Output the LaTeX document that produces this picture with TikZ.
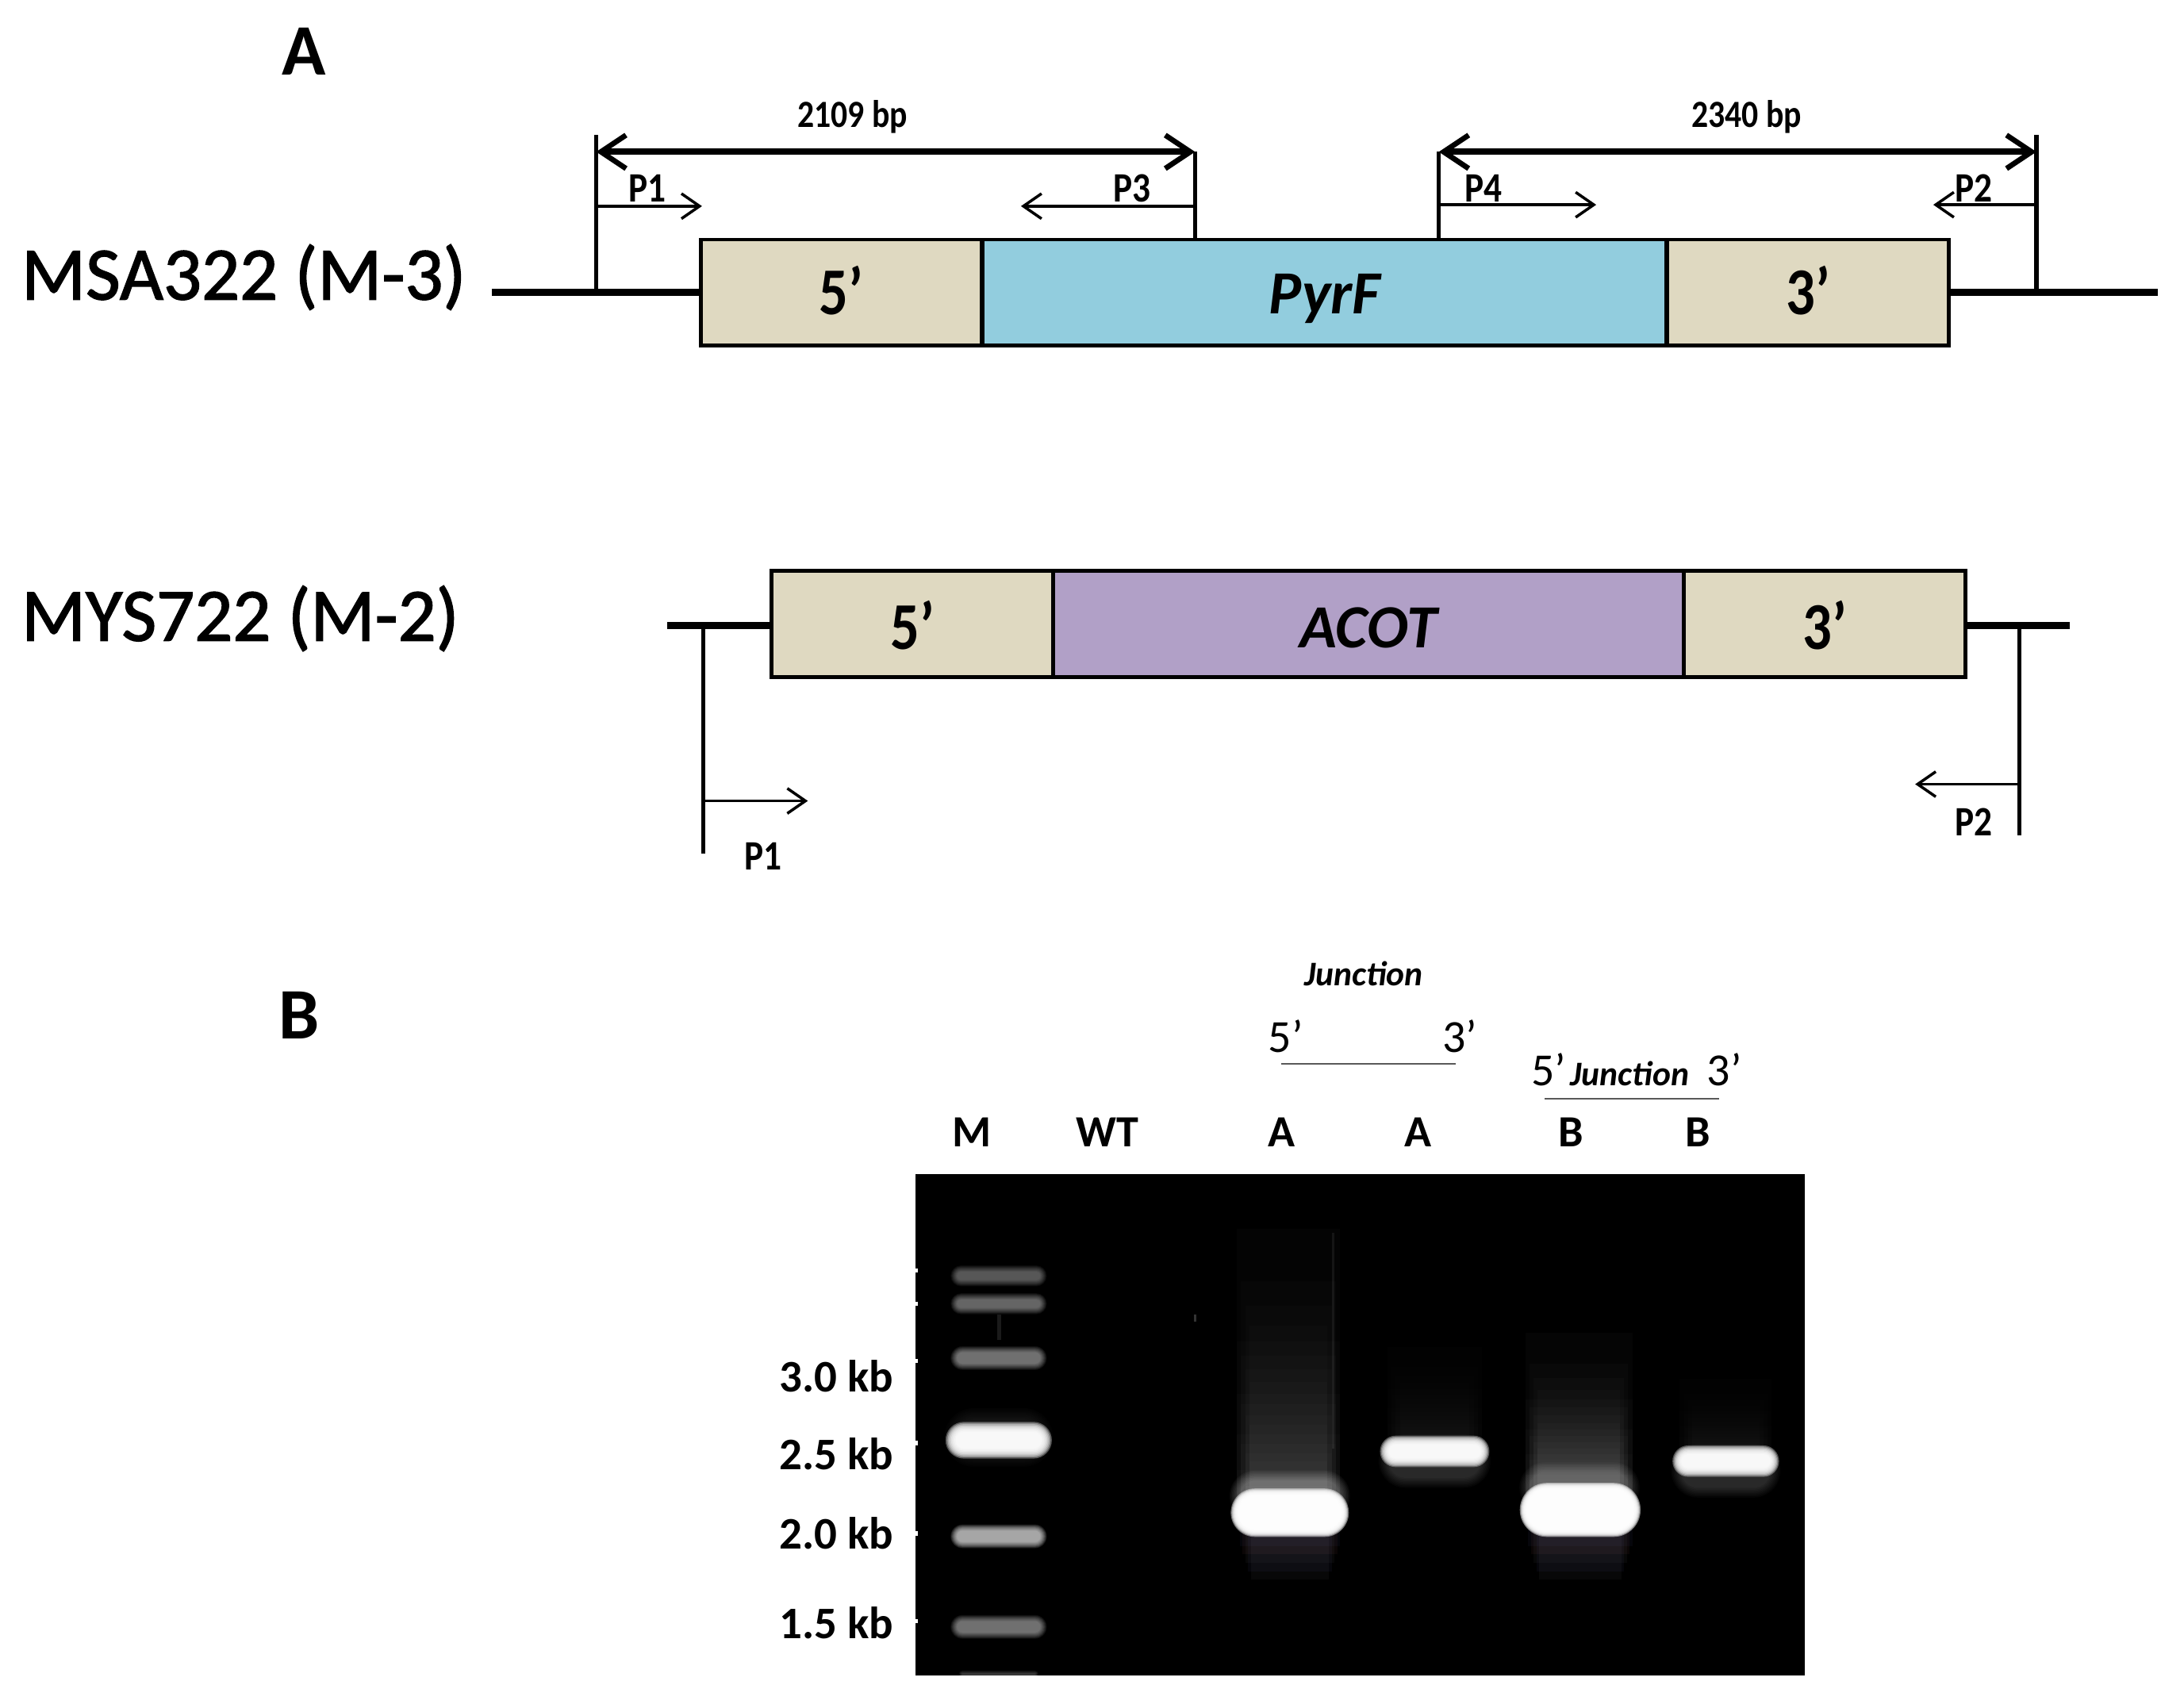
\documentclass[tikz,border=0pt]{standalone}
\usepackage{fontspec}
\setmainfont{Carlito}
\newfontfamily\condfont[FakeStretch=0.86]{Carlito}
\newfontfamily\heavyfont[FakeBold=1.6]{Carlito}
\usetikzlibrary{arrows.meta}
\definecolor{flank}{HTML}{DFD9C1}
\definecolor{pyrcol}{HTML}{92CDDE}
\definecolor{acotcol}{HTML}{B1A0C7}
\newcommand{\fs}[1]{\fontsize{#1}{#1}\selectfont}
\newcommand{\lowered}[2]{\raisebox{-#1}[0pt][0pt]{#2}}
% glow band: centre x,y; half width, half height; opacity per layer; blur step
\newcommand{\gelband}[6]{%
  \foreach \k in {0,1,...,9}{%
    \pgfmathsetmacro{\ex}{(9-\k)*#6}%
    \pgfmathsetmacro{\rr}{min(#3,#4)+\ex}%
    \fill[white,opacity=#5,rounded corners=\rr*0.5pt]
      (#1-#3-\ex,#2-#4-\ex) rectangle (#1+#3+\ex,#2+#4+\ex);
  }%
}
% smear: x1, x2, ytop, ybottom, opacity per layer
\newcommand{\gelsmear}[5]{%
  \foreach \k in {0,1,...,19}{%
    \pgfmathsetmacro{\yy}{#3+(#4-#3)*(\k/20)^0.55}%
    \pgfmathsetmacro{\ins}{mod(\k,4)*3}%
    \fill[white,opacity=#5] (#1+\ins,\yy) rectangle (#2-\ins,#4);
  }%
}
% tinted glow beneath an overloaded band: x1, x2, ytop
\newcommand{\gelunder}[3]{%
  \foreach \k/\tc in {0/blue,1/red,2/gray,3/blue,4/gray}{%
    \pgfmathsetmacro{\hh}{12+\k*6}%
    \fill[white!55!\tc,opacity=0.045] (#1+\k*2,#3) rectangle (#2-\k*2,#3+\hh);
  }%
}
\tikzset{
  x=0.017557cm,y=-0.017557cm,
  seg/.style={draw=black,line width=1.4pt,minimum height=38pt,inner sep=0pt,outer sep=0pt},
  genelabel/.style={font=\bfseries\itshape\fs{22}},
  endlabel/.style={font=\condfont\bfseries\upshape\fs{24}},
  dna/.style={line width=2.6pt},
  tick/.style={line width=1.5pt},
  span/.style={line width=2.3pt,{Straight Barb[length=9pt,width=12pt,line width=1.9pt]}-{Straight Barb[length=9pt,width=12pt,line width=1.9pt]}},
  primer/.style={line width=1pt,-{Straight Barb[length=6.5pt,width=9pt,line width=1pt]}},
  strain/.style={font=\heavyfont\fs{27},anchor=west,inner sep=0pt},
  panel/.style={font=\bfseries\fs{26},inner sep=0pt},
  plabel/.style={font=\condfont\bfseries\fs{15},inner sep=0pt},
  bplabel/.style={font=\condfont\bfseries\fs{13.8},inner sep=0pt},
  lane/.style={font=\bfseries\fs{16},inner sep=0pt},
  kb/.style={font=\bfseries\fs{16.2},inner sep=0pt,anchor=east},
  jun/.style={font=\bfseries\itshape\fs{12.4},inner sep=0pt},
  endp/.style={font=\fs{16.5},inner sep=0pt},
  bar/.style={draw=black!65,line width=0.6pt},
}
\begin{document}
\begin{tikzpicture}
\useasboundingbox (0,0) rectangle (1568,1226);
\fill[white] (0,0) rectangle (1568,1226);

% ---------- Panel labels
\node[panel] (pA) at (218,37) {A};
\node[panel] (pB) at (215,729) {B};
\node[strain] (s1) at (15,199) {MSA322 (M-3)};
\node[strain] (s2) at (15,444) {MYS722 (M-2)};

% ---------- Construct 1
\coordinate (aL) at (353,210);
\coordinate (aR) at (1549,210);
\coordinate (aLt) at (428,210);
\coordinate (aRt) at (1462,210);
\coordinate (t1) at (428,97);
\coordinate (t2) at (1462,97);
\coordinate (t3) at (858,109);
\coordinate (t4) at (1033,109);
\coordinate (b3) at (858,172);
\coordinate (b4) at (1033,172);
\draw[tick] (aLt) -- (t1);
\draw[tick] (aRt) -- (t2);
\draw[tick] (b3) -- (t3);
\draw[tick] (b4) -- (t4);
\node[seg,fill=flank,minimum width=101pt,endlabel] (a5) at (604,210) {\lowered{8pt}{5’}};
\node[seg,fill=pyrcol,minimum width=245.2pt,genelabel] (apyr) at (951,210) {\lowered{7.5pt}{PyrF}};
\node[seg,fill=flank,minimum width=101pt,endlabel] (a3) at (1298,210) {\lowered{8pt}{3’}};
\draw[dna] (aL) -- (a5.west);
\draw[dna] (a3.east) -- (aR);
\coordinate (sp1a) at (428,109);
\coordinate (sp1b) at (858,109);
\coordinate (sp2a) at (1033,109);
\coordinate (sp2b) at (1462,109);
\draw[span] (sp1a) -- (sp1b);
\draw[span] (sp2a) -- (sp2b);
\node[bplabel] (bp1) at (612,84) {2109 bp};
\node[bplabel] (bp2) at (1254,84) {2340 bp};
\coordinate (p1s) at (428,148); \coordinate (p1e) at (504,148);
\coordinate (p3s) at (858,148); \coordinate (p3e) at (733,148);
\coordinate (p4s) at (1033,147); \coordinate (p4e) at (1146,147);
\coordinate (p2s) at (1462,147); \coordinate (p2e) at (1388,147);
\draw[primer] (p1s) -- (p1e);
\draw[primer] (p3s) -- (p3e);
\draw[primer] (p4s) -- (p4e);
\draw[primer] (p2s) -- (p2e);
\node[plabel] (lp1) at (465,135) {P1};
\node[plabel] (lp3) at (813,135) {P3};
\node[plabel] (lp4) at (1065,135) {P4};
\node[plabel] (lp2) at (1417,135) {P2};

% ---------- Construct 2
\node[seg,fill=flank,minimum width=101pt,endlabel] (c5) at (655,448) {\lowered{9pt}{5’}};
\node[seg,fill=acotcol,minimum width=226.3pt,genelabel] (cacot) at (982.5,448) {\lowered{8.5pt}{ACOT}};
\node[seg,fill=flank,minimum width=101pt,endlabel] (c3) at (1310,448) {\lowered{9pt}{3’}};
\coordinate (cL) at (479,449);
\coordinate (cR) at (1486,449);
\coordinate (cLt) at (505,449);
\coordinate (cRt) at (1450,449);
\coordinate (d1) at (505,613);
\coordinate (d2) at (1450,600);
\draw[dna] (cL) -- (c5.west |- cL);
\draw[dna] (c3.east |- cR) -- (cR);
\draw[tick] (cLt) -- (d1);
\draw[tick] (cRt) -- (d2);
\coordinate (q1s) at (505,575); \coordinate (q1e) at (580,575);
\coordinate (q2s) at (1450,563); \coordinate (q2e) at (1375,563);
\draw[primer] (q1s) -- (q1e);
\draw[primer] (q2s) -- (q2e);
\node[plabel] (lq1) at (548,615) {P1};
\node[plabel] (lq2) at (1417,590) {P2};

% ---------- Gel
\fill[black] (657,843) rectangle (1296,1203);
% smears
\gelsmear{888}{962}{882}{1078}{0.015}
\gelsmear{996}{1064}{967}{1040}{0.008}
\gelsmear{1095}{1172}{957}{1072}{0.021}
\gelsmear{1206}{1272}{990}{1045}{0.006}
\fill[white,opacity=0.07] (956.5,885) rectangle (958,1040);
\fill[white,opacity=0.2] (857,944) rectangle (859,949);
% tinted glow under the overloaded bands
\gelunder{890}{962}{1098}
\gelunder{1097}{1172}{1098}
% ladder
\gelband{717}{916}{30}{3}{0.045}{0.5}
\gelband{717}{936}{30}{3}{0.05}{0.5}
\fill[white,opacity=0.10] (716,944) rectangle (719,962);
\gelband{717}{975}{30}{4}{0.06}{0.5}
\gelband{717}{1032}{30}{12}{0.012}{1}
\gelband{717}{1034}{31}{6}{0.30}{0.8}
\gelband{717}{1103}{30}{4}{0.10}{0.5}
\gelband{717}{1168}{30}{4}{0.06}{0.5}
\gelband{717}{1202}{26}{0}{0.03}{0.3}
% sample bands
\gelband{1030}{1049}{33}{12}{0.02}{0.8}
\gelband{1239}{1056}{32}{12}{0.02}{0.8}
\gelband{926}{1074}{36}{11}{0.035}{0.8}
\gelband{1134}{1068}{36}{11}{0.025}{0.8}
\gelband{926}{1086}{37}{12}{0.42}{0.6}
\gelband{1030}{1042}{33}{5}{0.30}{0.7}
\gelband{1134.5}{1084}{38}{14}{0.45}{0.6}
\gelband{1239}{1049}{32}{5}{0.30}{0.7}
% notches on the gel's left edge
\foreach \ny in {912,936,977,1036,1101,1164}{
  \fill[white] (655,\ny-1.5) rectangle (659,\ny+1.5);
}
% cover overflow from bottom of the gel
\fill[white] (650,1203) rectangle (1300,1226);

% ---------- Gel labels
\node[lane] (lM) at (698,813) {M};
\node[lane] (lWT) at (795,813) {WT};
\node[lane] (lA1) at (920,813) {A};
\node[lane] (lA2) at (1018,813) {A};
\node[lane] (lB1) at (1128,813) {B};
\node[lane] (lB2) at (1219,813) {B};
\node[kb] (k3) at (642,988) {3.0 kb};
\node[kb] (k25) at (642,1044) {2.5 kb};
\node[kb] (k2) at (642,1101) {2.0 kb};
\node[kb] (k15) at (642,1165) {1.5 kb};
\node[jun] (j1) at (979,699) {Junction};
\node[endp] (e1) at (923,744) {5’};
\node[endp] (e2) at (1048,744) {3’};
\coordinate (ba) at (920,764);
\coordinate (bb) at (1045,764);
\draw[bar] (ba) -- (bb);
\node[endp] (e3) at (1112,768) {5’};
\node[jun] (j2) at (1170,771) {Junction};
\node[endp] (e4) at (1238,768) {3’};
\coordinate (bc) at (1109,789);
\coordinate (bd) at (1234,789);
\draw[bar] (bc) -- (bd);
\end{tikzpicture}
\end{document}
